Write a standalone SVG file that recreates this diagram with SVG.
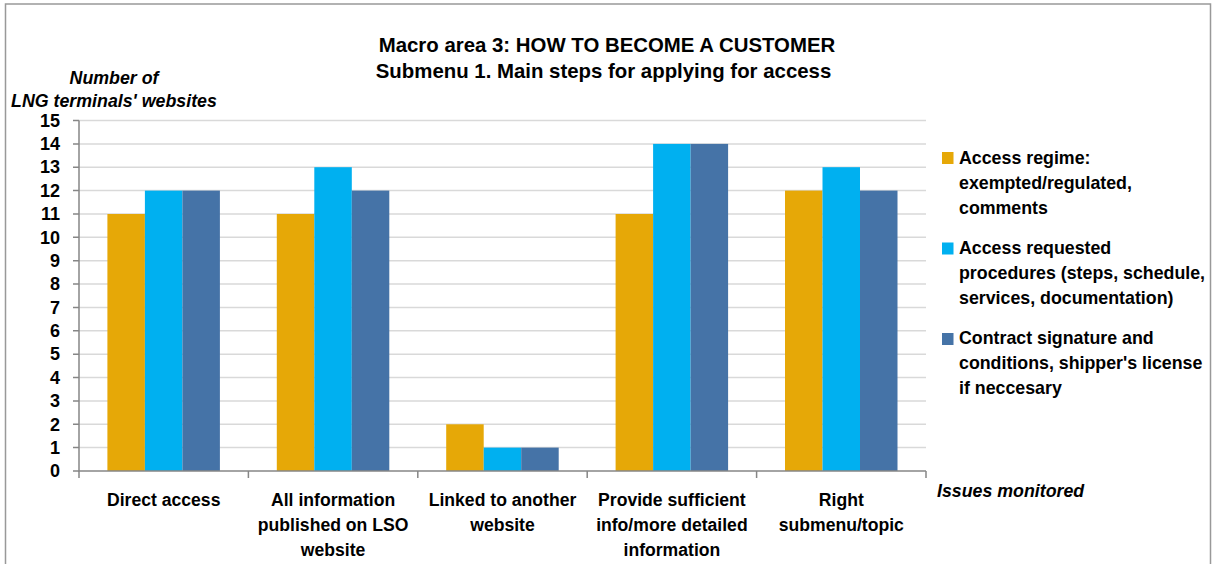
<svg xmlns="http://www.w3.org/2000/svg" width="1215" height="564" viewBox="0 0 1215 564">
<style>
  text { font-family: "Liberation Sans", Arial, sans-serif; font-weight: bold; fill: #000; }
  .title { font-size: 20.4px; text-anchor: middle; }
  .tick { font-size: 18px; text-anchor: end; }
  .cat { font-size: 17.6px; text-anchor: middle; }
  .leg { font-size: 17.8px; }
  .ax { font-size: 17.8px; font-style: italic; }
  .grid { stroke: #D9D9D9; stroke-width: 1.5; }
  .axis { stroke: #868686; stroke-width: 1.5; fill: none; }
  .s1 { fill: #E6A807; }
  .s2 { fill: #00B0F0; }
  .s3 { fill: #4573A7; }
</style>
<rect x="5.5" y="4" width="1205" height="620" fill="#FFFFFF" stroke="#999999" stroke-width="1.5"/>

<g id="title">
  <text class="title" x="607" y="52">Macro area 3: HOW TO BECOME A CUSTOMER</text>
  <text class="title" x="603.5" y="78">Submenu 1. Main steps for applying for access</text>
</g>

<g id="y-axis-title">
  <text class="ax" x="114" y="84" text-anchor="middle">Number of</text>
  <text class="ax" x="114" y="107" text-anchor="middle">LNG terminals' websites</text>
</g>

<g id="gridlines">
  <line class="grid" x1="79" y1="447.6" x2="926" y2="447.6"/>
  <line class="grid" x1="79" y1="424.3" x2="926" y2="424.3"/>
  <line class="grid" x1="79" y1="400.9" x2="926" y2="400.9"/>
  <line class="grid" x1="79" y1="377.5" x2="926" y2="377.5"/>
  <line class="grid" x1="79" y1="354.2" x2="926" y2="354.2"/>
  <line class="grid" x1="79" y1="330.8" x2="926" y2="330.8"/>
  <line class="grid" x1="79" y1="307.4" x2="926" y2="307.4"/>
  <line class="grid" x1="79" y1="284.1" x2="926" y2="284.1"/>
  <line class="grid" x1="79" y1="260.7" x2="926" y2="260.7"/>
  <line class="grid" x1="79" y1="237.3" x2="926" y2="237.3"/>
  <line class="grid" x1="79" y1="214.0" x2="926" y2="214.0"/>
  <line class="grid" x1="79" y1="190.6" x2="926" y2="190.6"/>
  <line class="grid" x1="79" y1="167.2" x2="926" y2="167.2"/>
  <line class="grid" x1="79" y1="143.9" x2="926" y2="143.9"/>
  <line class="grid" x1="79" y1="120.5" x2="926" y2="120.5"/>
</g>

<g id="y-ticks">
  <text class="tick" x="60" y="477.2">0</text>
  <text class="tick" x="60" y="453.8">1</text>
  <text class="tick" x="60" y="430.5">2</text>
  <text class="tick" x="60" y="407.1">3</text>
  <text class="tick" x="60" y="383.7">4</text>
  <text class="tick" x="60" y="360.4">5</text>
  <text class="tick" x="60" y="337.0">6</text>
  <text class="tick" x="60" y="313.6">7</text>
  <text class="tick" x="60" y="290.3">8</text>
  <text class="tick" x="60" y="266.9">9</text>
  <text class="tick" x="60" y="243.5">10</text>
  <text class="tick" x="60" y="220.2">11</text>
  <text class="tick" x="60" y="196.8">12</text>
  <text class="tick" x="60" y="173.4">13</text>
  <text class="tick" x="60" y="150.1">14</text>
  <text class="tick" x="60" y="126.7">15</text>
</g>

<g id="series-access-regime">
  <rect class="s1" x="107.4" y="214.0" width="37.5" height="257.0"/>
  <rect class="s1" x="276.8" y="214.0" width="37.5" height="257.0"/>
  <rect class="s1" x="446.2" y="424.3" width="37.5" height="46.7"/>
  <rect class="s1" x="615.6" y="214.0" width="37.5" height="257.0"/>
  <rect class="s1" x="785.0" y="190.6" width="37.5" height="280.4"/>
</g>
<g id="series-access-procedures">
  <rect class="s2" x="144.9" y="190.6" width="37.5" height="280.4"/>
  <rect class="s2" x="314.3" y="167.2" width="37.5" height="303.8"/>
  <rect class="s2" x="483.7" y="447.6" width="37.5" height="23.4"/>
  <rect class="s2" x="653.1" y="143.9" width="37.5" height="327.1"/>
  <rect class="s2" x="822.5" y="167.2" width="37.5" height="303.8"/>
</g>
<g id="series-contract">
  <rect class="s3" x="182.4" y="190.6" width="37.5" height="280.4"/>
  <rect class="s3" x="351.8" y="190.6" width="37.5" height="280.4"/>
  <rect class="s3" x="521.2" y="447.6" width="37.5" height="23.4"/>
  <rect class="s3" x="690.6" y="143.9" width="37.5" height="327.1"/>
  <rect class="s3" x="860.0" y="190.6" width="37.5" height="280.4"/>
</g>

<g id="axes">
  <path class="axis" d="M79,120.5 V471 H926"/>
  <path class="axis" d="M73,471 H79 M73,447.6 H79 M73,424.3 H79 M73,400.9 H79 M73,377.5 H79 M73,354.2 H79 M73,330.8 H79 M73,307.4 H79 M73,284.1 H79 M73,260.7 H79 M73,237.3 H79 M73,214 H79 M73,190.6 H79 M73,167.2 H79 M73,143.9 H79 M73,120.5 H79"/>
  <path class="axis" d="M79,471 V478 M248.4,471 V478 M417.8,471 V478 M587.2,471 V478 M756.6,471 V478 M926,471 V478"/>
</g>

<g id="categories">
  <text class="cat" x="163.7" y="506">Direct access</text>
  <text class="cat" x="333.1" y="506">All information</text>
  <text class="cat" x="333.1" y="531">published on LSO</text>
  <text class="cat" x="333.1" y="556">website</text>
  <text class="cat" x="502.5" y="506">Linked to another</text>
  <text class="cat" x="502.5" y="531">website</text>
  <text class="cat" x="671.9" y="506">Provide sufficient</text>
  <text class="cat" x="671.9" y="531">info/more detailed</text>
  <text class="cat" x="671.9" y="556">information</text>
  <text class="cat" x="841.3" y="506">Right</text>
  <text class="cat" x="841.3" y="531">submenu/topic</text>
</g>

<g id="x-axis-title">
  <text class="ax" x="937" y="497">Issues monitored</text>
</g>

<g id="legend">
  <g id="legend-access-regime">
    <rect class="s1" x="942" y="152" width="11.5" height="12"/>
    <text class="leg" x="959" y="164">Access regime:</text>
    <text class="leg" x="959" y="189">exempted/regulated,</text>
    <text class="leg" x="959" y="214">comments</text>
  </g>
  <g id="legend-access-procedures">
    <rect class="s2" x="942" y="242.5" width="11.5" height="12"/>
    <text class="leg" x="959" y="254">Access requested</text>
    <text class="leg" x="959" y="279">procedures (steps, schedule,</text>
    <text class="leg" x="959" y="304">services, documentation)</text>
  </g>
  <g id="legend-contract">
    <rect class="s3" x="942" y="333" width="11.5" height="12"/>
    <text class="leg" x="959" y="344">Contract signature and</text>
    <text class="leg" x="959" y="369">conditions, shipper's license</text>
    <text class="leg" x="959" y="394">if neccesary</text>
  </g>
</g>
</svg>
